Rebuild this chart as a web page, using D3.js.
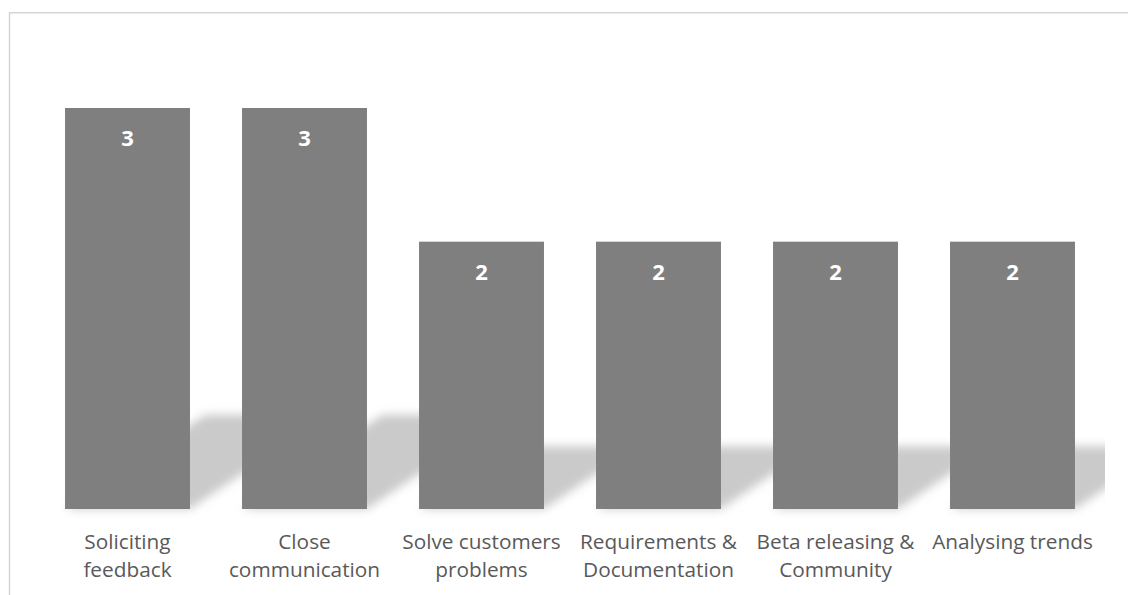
<!DOCTYPE html>
<html>
<head>
<meta charset="utf-8">
<script src="https://cdn.jsdelivr.net/npm/d3@7"></script>
<style>
  body { margin: 0; background: #fff; }
  svg { display: block; }
</style>
</head>
<body>
<script>
// data
var categories = [
    ["Soliciting", "feedback"],
    ["Close", "communication"],
    ["Solve customers", "problems"],
    ["Requirements &", "Documentation"],
    ["Beta releasing &", "Community"],
    ["Analysing trends"]
];
var values = [3, 3, 2, 2, 2, 2];
var names = categories.map(function (c) { return c.join(" "); });

var W = 1128, H = 595;
var base = 509;

var svg = d3.select("body").append("svg")
    .attr("width", W)
    .attr("height", H);

// frame (only top and left edges are visible)
svg.append("path")
    .attr("d", "M9.5,595 V12.75 H1128")
    .attr("fill", "none")
    .attr("stroke", "#d6d6d6")
    .attr("stroke-width", 1.5);

// scales
var x = d3.scaleBand()
    .domain(names)
    .range([39, 1101])
    .paddingInner(0.294)
    .paddingOuter(0.147);

var y = d3.scaleLinear()
    .domain([0, 3])
    .range([base, 108]);

// shadow filter + clip
var defs = svg.append("defs");
defs.append("filter")
    .attr("id", "blur")
    .attr("x", "-20%").attr("y", "-30%")
    .attr("width", "140%").attr("height", "160%")
    .append("feGaussianBlur")
    .attr("stdDeviation", 5);
defs.append("clipPath")
    .attr("id", "plotclip")
    .append("rect")
    .attr("x", 11).attr("y", 14)
    .attr("width", 1094).attr("height", 505);

// perspective shadows behind bars
var shadows = svg.append("g")
    .attr("clip-path", "url(#plotclip)")
    .append("g")
    .attr("filter", "url(#blur)");

shadows.selectAll("polygon")
    .data(values)
    .enter().append("polygon")
    .attr("fill", "#cacaca")
    .attr("points", function (d, i) {
        var x0 = x(names[i]), x1 = x0 + x.bandwidth();
        var h = base - y(d);
        var sh = 0.235 * h, dx = 0.35 * h;
        return [[x0, base], [x1, base], [x1 + dx, base - sh], [x0 + dx, base - sh]]
            .map(function (p) { return p.join(","); }).join(" ");
    });

// bars
svg.selectAll("rect.bar")
    .data(values)
    .enter().append("rect")
    .attr("class", "bar")
    .attr("x", function (d, i) { return x(names[i]); })
    .attr("width", x.bandwidth())
    .attr("y", function (d) { return y(d); })
    .attr("height", function (d) { return base - y(d); })
    .attr("fill", "#7f7f7f");

// value labels
svg.selectAll("text.val")
    .data(values)
    .enter().append("text")
    .attr("class", "val")
    .attr("x", function (d, i) { return x(names[i]) + x.bandwidth() / 2; })
    .attr("y", function (d) { return y(d) + 38; })
    .attr("text-anchor", "middle")
    .attr("font-family", "'Open Sans', sans-serif")
    .attr("font-weight", "bold")
    .attr("font-size", 22)
    .attr("fill", "#fff")
    .text(function (d) { return d; });

// category labels
var lab = svg.selectAll("text.cat")
    .data(categories)
    .enter().append("text")
    .attr("class", "cat")
    .attr("text-anchor", "middle")
    .attr("font-family", "'Open Sans', sans-serif")
    .attr("font-size", 20.8)
    .attr("fill", "#595959");

lab.selectAll("tspan")
    .data(function (d, i) { return d.map(function (t, j) { return { t: t, j: j, i: i }; }); })
    .enter().append("tspan")
    .attr("x", function (d) { return x(names[d.i]) + x.bandwidth() / 2; })
    .attr("y", function (d) { return 549 + d.j * 28; })
    .text(function (d) { return d.t; });
</script>
</body>
</html>
